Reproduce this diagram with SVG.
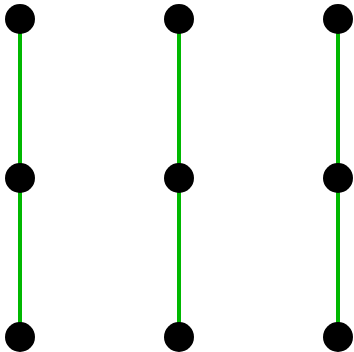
<svg xmlns="http://www.w3.org/2000/svg" width="354" height="352" viewBox="0 0 354 352">
<style>
.e{stroke:#00b800;stroke-width:4;fill:none}
.n{fill:#000}
</style>
<rect width="354" height="352" fill="#fff"/>
<g id="edges">
<line class="e" x1="20" y1="19" x2="20" y2="178"/>
<line class="e" x1="20" y1="178" x2="20" y2="337"/>
<line class="e" x1="179" y1="19" x2="179" y2="178"/>
<line class="e" x1="179" y1="178" x2="179" y2="337"/>
<line class="e" x1="338" y1="19" x2="338" y2="178"/>
<line class="e" x1="338" y1="178" x2="338" y2="337"/>
</g>
<g id="n00"><circle class="n" cx="20" cy="19" r="15"/></g>
<g id="n01"><circle class="n" cx="179" cy="19" r="15"/></g>
<g id="n02"><circle class="n" cx="338" cy="19" r="15"/></g>
<g id="n10"><circle class="n" cx="20" cy="178" r="15"/></g>
<g id="n11"><circle class="n" cx="179" cy="178" r="15"/></g>
<g id="n12"><circle class="n" cx="338" cy="178" r="15"/></g>
<g id="n20"><circle class="n" cx="20" cy="337" r="15"/></g>
<g id="n21"><circle class="n" cx="179" cy="337" r="15"/></g>
<g id="n22"><circle class="n" cx="338" cy="337" r="15"/></g>
</svg>
